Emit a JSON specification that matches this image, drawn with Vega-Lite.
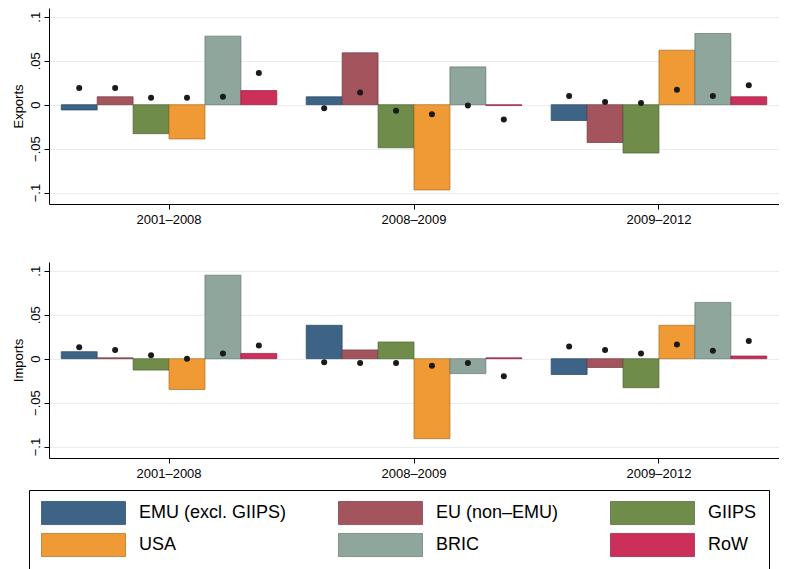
{
"$schema":"https://vega.github.io/schema/vega-lite/v6.json",
"background":"white",
"padding":{"left":12,"top":8,"right":0,"bottom":0},
"config":{"view":{"stroke":null},"font":"Liberation Sans","axis":{"grid":false,"domainColor":"black","tickColor":"black","labelColor":"black","titleColor":"black","labelFontSize":13,"titleFontSize":13,"titleFontWeight":"normal"},"axisY":{"grid":true,"gridColor":"#e6eeee","gridWidth":1}},
"datasets":{"d":[
{"flow":"Exports","period":"2001–2008","region":"EMU (excl. GIIPS)","v":-0.006,"dot":0.019},
{"flow":"Exports","period":"2001–2008","region":"EU (non–EMU)","v":0.009,"dot":0.019},
{"flow":"Exports","period":"2001–2008","region":"GIIPS","v":-0.033,"dot":0.008},
{"flow":"Exports","period":"2001–2008","region":"USA","v":-0.039,"dot":0.008},
{"flow":"Exports","period":"2001–2008","region":"BRIC","v":0.078,"dot":0.009},
{"flow":"Exports","period":"2001–2008","region":"RoW","v":0.016,"dot":0.036},
{"flow":"Exports","period":"2008–2009","region":"EMU (excl. GIIPS)","v":0.009,"dot":-0.004},
{"flow":"Exports","period":"2008–2009","region":"EU (non–EMU)","v":0.059,"dot":0.014},
{"flow":"Exports","period":"2008–2009","region":"GIIPS","v":-0.049,"dot":-0.007},
{"flow":"Exports","period":"2008–2009","region":"USA","v":-0.097,"dot":-0.011},
{"flow":"Exports","period":"2008–2009","region":"BRIC","v":0.043,"dot":-0.001},
{"flow":"Exports","period":"2008–2009","region":"RoW","v":-0.001,"dot":-0.017},
{"flow":"Exports","period":"2009–2012","region":"EMU (excl. GIIPS)","v":-0.018,"dot":0.010},
{"flow":"Exports","period":"2009–2012","region":"EU (non–EMU)","v":-0.043,"dot":0.003},
{"flow":"Exports","period":"2009–2012","region":"GIIPS","v":-0.055,"dot":0.002},
{"flow":"Exports","period":"2009–2012","region":"USA","v":0.062,"dot":0.017},
{"flow":"Exports","period":"2009–2012","region":"BRIC","v":0.081,"dot":0.010},
{"flow":"Exports","period":"2009–2012","region":"RoW","v":0.009,"dot":0.022},
{"flow":"Imports","period":"2001–2008","region":"EMU (excl. GIIPS)","v":0.008,"dot":0.013},
{"flow":"Imports","period":"2001–2008","region":"EU (non–EMU)","v":0.001,"dot":0.010},
{"flow":"Imports","period":"2001–2008","region":"GIIPS","v":-0.013,"dot":0.004},
{"flow":"Imports","period":"2001–2008","region":"USA","v":-0.035,"dot":0.0},
{"flow":"Imports","period":"2001–2008","region":"BRIC","v":0.095,"dot":0.006},
{"flow":"Imports","period":"2001–2008","region":"RoW","v":0.006,"dot":0.015},
{"flow":"Imports","period":"2008–2009","region":"EMU (excl. GIIPS)","v":0.038,"dot":-0.004},
{"flow":"Imports","period":"2008–2009","region":"EU (non–EMU)","v":0.010,"dot":-0.005},
{"flow":"Imports","period":"2008–2009","region":"GIIPS","v":0.019,"dot":-0.005},
{"flow":"Imports","period":"2008–2009","region":"USA","v":-0.091,"dot":-0.008},
{"flow":"Imports","period":"2008–2009","region":"BRIC","v":-0.017,"dot":-0.005},
{"flow":"Imports","period":"2008–2009","region":"RoW","v":0.001,"dot":-0.020},
{"flow":"Imports","period":"2009–2012","region":"EMU (excl. GIIPS)","v":-0.018,"dot":0.014},
{"flow":"Imports","period":"2009–2012","region":"EU (non–EMU)","v":-0.010,"dot":0.010},
{"flow":"Imports","period":"2009–2012","region":"GIIPS","v":-0.033,"dot":0.006},
{"flow":"Imports","period":"2009–2012","region":"USA","v":0.038,"dot":0.016},
{"flow":"Imports","period":"2009–2012","region":"BRIC","v":0.064,"dot":0.009},
{"flow":"Imports","period":"2009–2012","region":"RoW","v":0.003,"dot":0.020}
]},
"data":{"name":"d"},
"vconcat":[
{"transform":[{"filter":"datum.flow=='Exports'"}],"width":730,"height":196,
"layer":[
{"mark":{"type":"bar","strokeWidth":0.7},"encoding":{
"x":{"field":"period","type":"nominal","title":null,"scale":{"paddingInner":0.12,"paddingOuter":0.05},"axis":{"labelAngle":0,"labelPadding":4}},
"xOffset":{"field":"region","sort":null},
"y":{"field":"v","type":"quantitative","title":"Exports","scale":{"domain":[-0.113,0.11],"nice":false},"axis":{"values":[-0.1,-0.05,0,0.05,0.1],"labelAngle":-90,"labelAlign":"center","labelBaseline":"bottom","labelExpr":"datum.value==0?'0':replace(replace(format(datum.value,'.2~f'),'0.','.'),'-','−')","titlePadding":4}},
"color":{"field":"region","sort":null,"title":null,"scale":{"range":["#3d6387","#a3545c","#6f8c4b","#ef9a34","#8ea69b","#cd2f5b"]}},
"stroke":{"field":"region","sort":null,"legend":null,"scale":{"range":["#2a4560","#703a40","#4d6234","#a86b24","#63746c","#8f2040"]}}}},
{"mark":{"type":"point","filled":true,"color":"#1a1a1a","size":36,"opacity":1},"encoding":{
"x":{"field":"period","type":"nominal"},"xOffset":{"field":"region","sort":null},"y":{"field":"dot","type":"quantitative"}}}
]},
{"transform":[{"filter":"datum.flow=='Imports'"}],"width":730,"height":196,
"layer":[
{"mark":{"type":"bar","strokeWidth":0.7},"encoding":{
"x":{"field":"period","type":"nominal","title":null,"scale":{"paddingInner":0.12,"paddingOuter":0.05},"axis":{"labelAngle":0,"labelPadding":4}},
"xOffset":{"field":"region","sort":null},
"y":{"field":"v","type":"quantitative","title":"Imports","scale":{"domain":[-0.113,0.11],"nice":false},"axis":{"values":[-0.1,-0.05,0,0.05,0.1],"labelAngle":-90,"labelAlign":"center","labelBaseline":"bottom","labelExpr":"datum.value==0?'0':replace(replace(format(datum.value,'.2~f'),'0.','.'),'-','−')","titlePadding":4}},
"color":{"field":"region","sort":null,"title":null,"legend":{"orient":"none","legendX":-20,"legendY":482,"direction":"horizontal","columns":3,"symbolType":"M-1,-1.1H7V1.1H-1Z","symbolSize":441,"symbolStrokeWidth":0.7,"labelFontSize":18,"labelLimit":300,"columnPadding":50,"rowPadding":6,"padding":12,"strokeColor":"black","labelOffset":76,"gridAlign":"each"}},
"stroke":{"field":"region","sort":null,"legend":null}}},
{"mark":{"type":"point","filled":true,"color":"#1a1a1a","size":36,"opacity":1},"encoding":{
"x":{"field":"period","type":"nominal"},"xOffset":{"field":"region","sort":null},"y":{"field":"dot","type":"quantitative"}}}
]}
],
"spacing":36,
"resolve":{"scale":{"color":"shared","stroke":"shared"}}
}
